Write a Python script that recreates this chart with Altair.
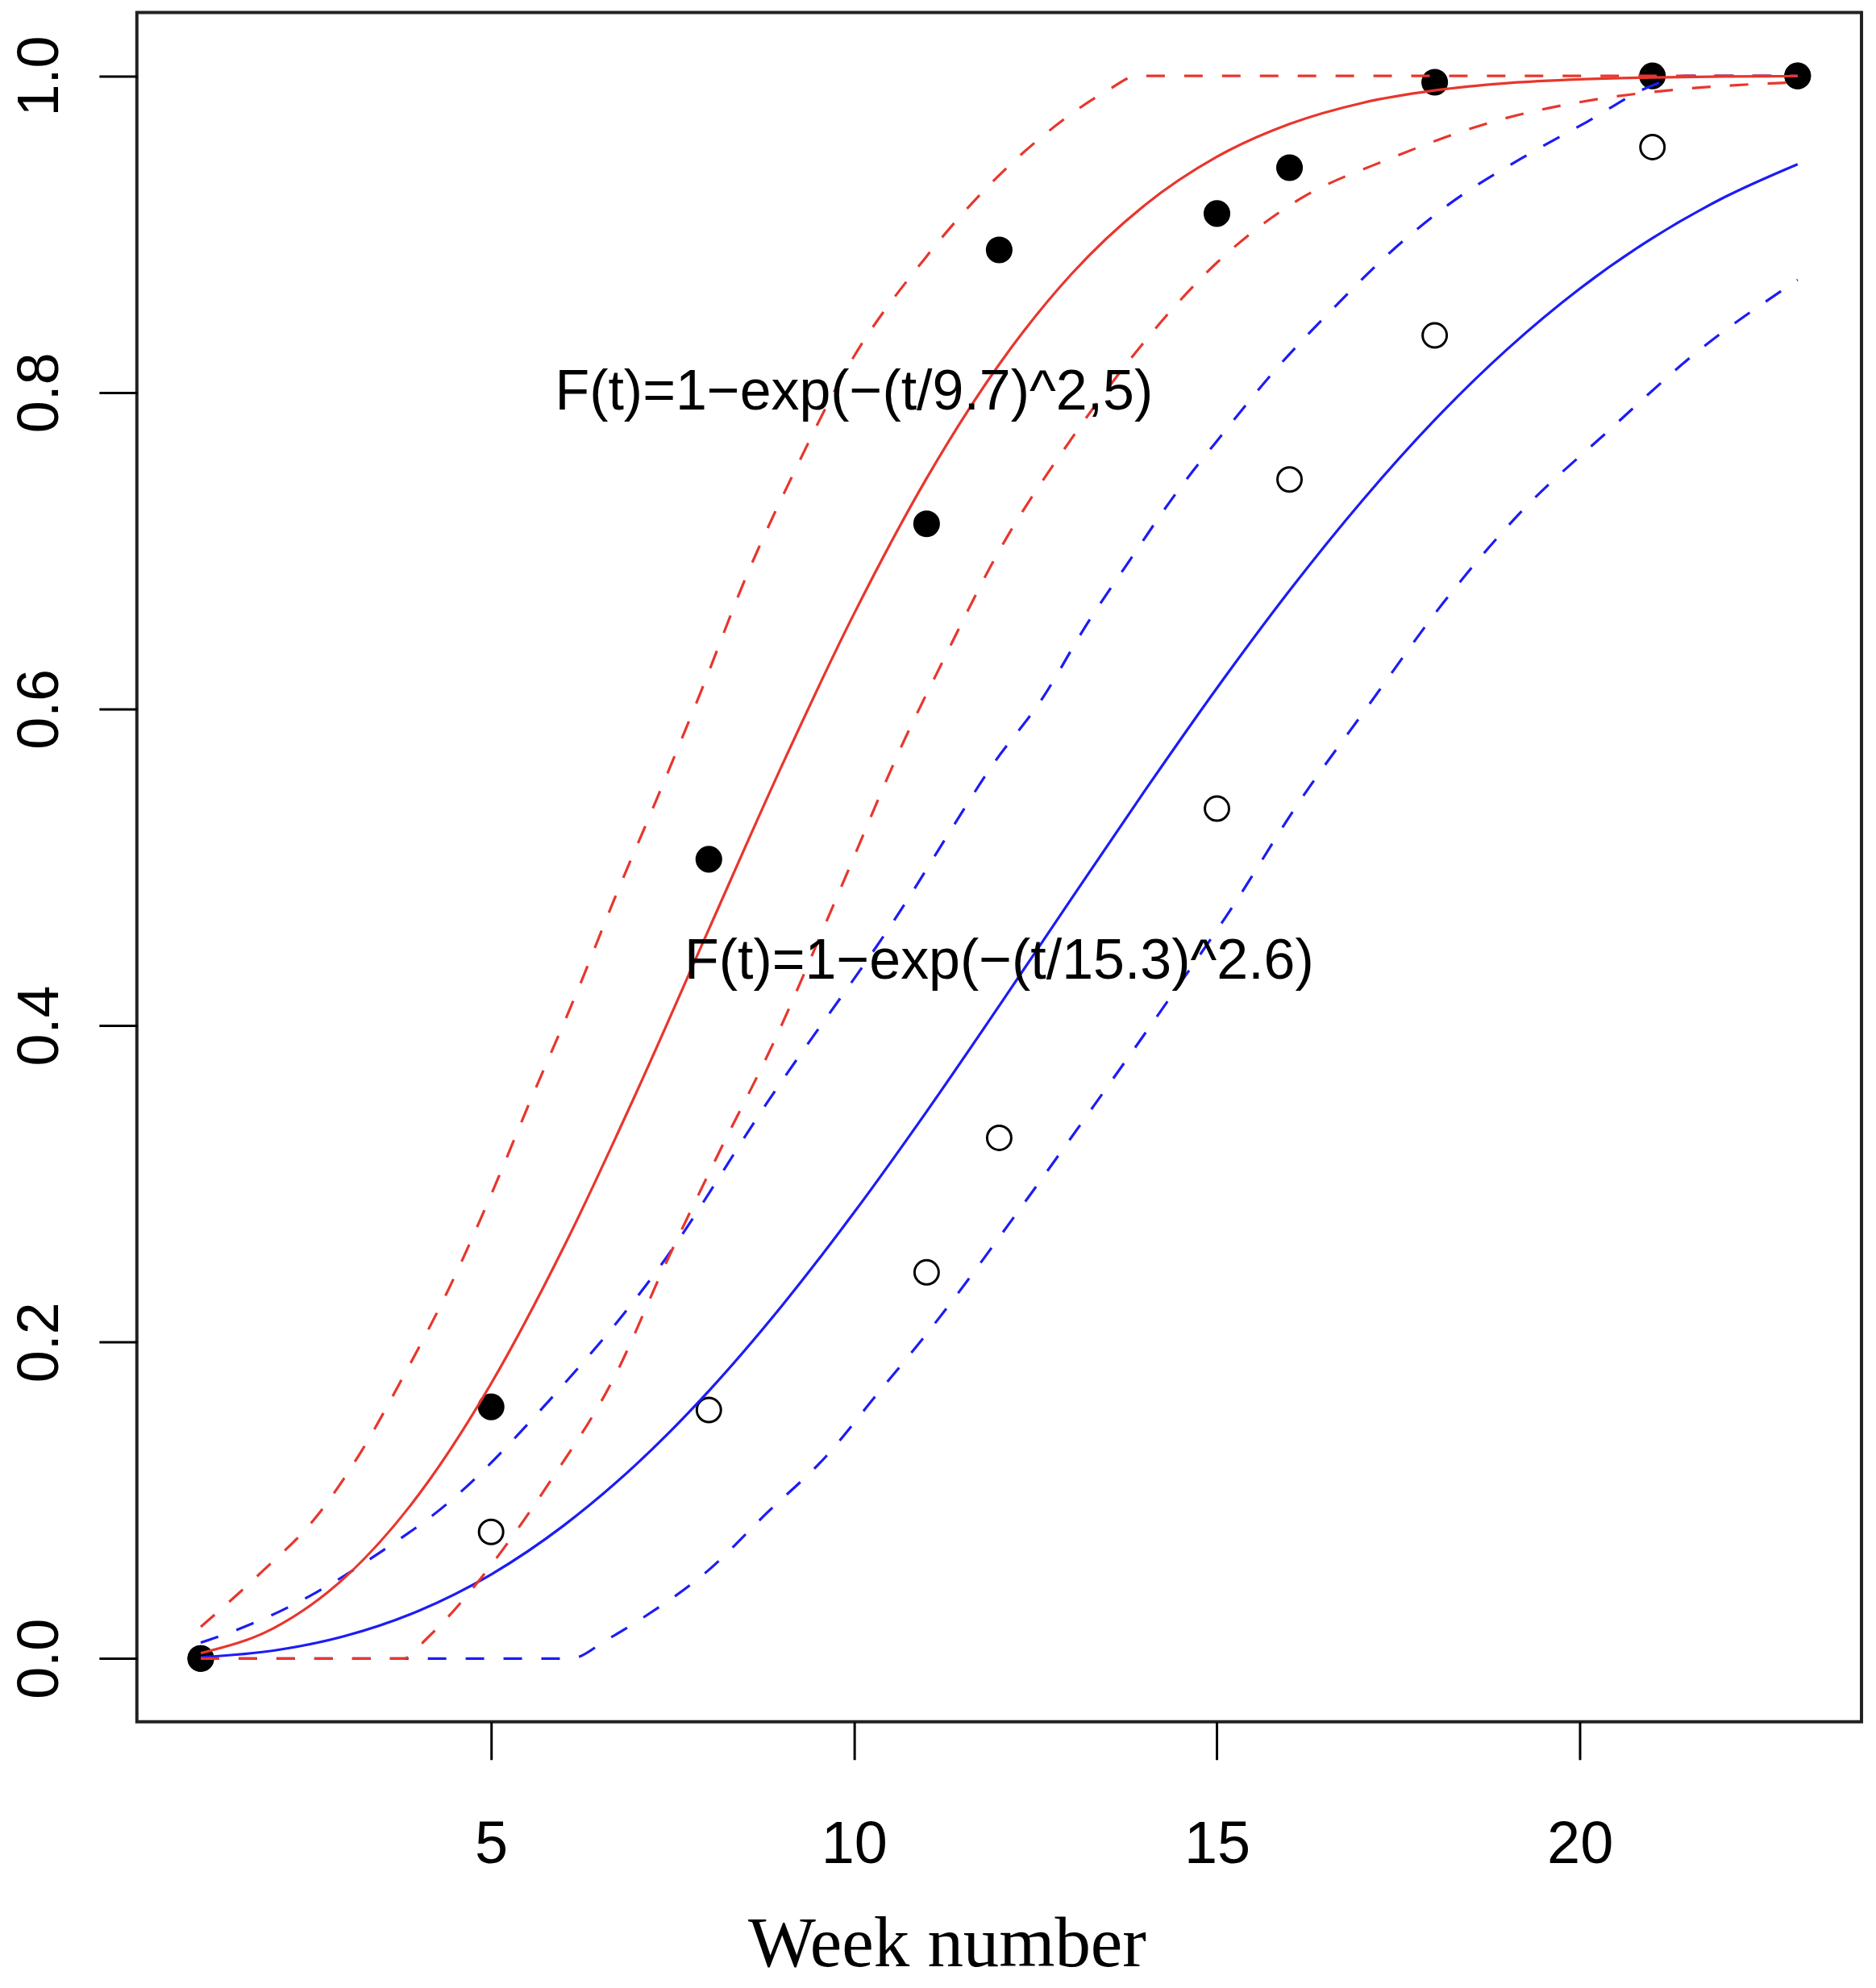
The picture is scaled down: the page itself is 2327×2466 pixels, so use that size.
import altair as alt
import pandas as pd

# ---- data ----
weeks = [1, 5, 8, 11, 12, 15, 16, 18, 21, 23]
filled_y = [0.0, 0.159, 0.505, 0.717, 0.890, 0.913, 0.942, 0.996, 1.0, 1.0]
open_y = [0.0, 0.080, 0.157, 0.244, 0.329, 0.537, 0.745, 0.836, 0.955, 1.0]

fit_t = list(range(1, 24))
red_fit = [0.0034, 0.0191, 0.0518, 0.1034, 0.1737, 0.2599, 0.3575, 0.4608, 0.5636, 0.6601,
           0.7457, 0.8177, 0.8750, 0.9181, 0.9489, 0.9696, 0.9829, 0.9908, 0.9954, 0.9978,
           0.9990, 0.9996, 0.9998]
blue_fit = [0.0008, 0.0050, 0.0144, 0.0301, 0.0531, 0.0840, 0.1227, 0.1691, 0.2225, 0.2818,
            0.3456, 0.4124, 0.4804, 0.5479, 0.6132, 0.6748, 0.7315, 0.7826, 0.8273, 0.8656,
            0.8975, 0.9235, 0.9442]

red_up_t = [1, 1.8, 2.6, 3.2, 3.8, 4.4, 5, 5.5, 6.2, 6.7, 7.3, 7.9, 8.5, 9.2, 9.9, 11.0, 11.8,
            12.6, 13.5, 13.9, 23]
red_up_v = [0.020, 0.053, 0.090, 0.130, 0.179, 0.232, 0.293, 0.348, 0.423, 0.480, 0.545, 0.612,
            0.682, 0.752, 0.815, 0.886, 0.928, 0.962, 0.991, 1.0, 1.0]

red_lo_t = [1, 3.8, 4.1, 4.5, 5.0, 5.8, 6.7, 7.4, 8.1, 8.9, 9.8, 10.7, 11.2, 12.0, 13.0, 14.0,
            15.0, 16.1, 17.4, 18.8, 20.2, 21.5, 23]
red_lo_v = [0, 0, 0.012, 0.031, 0.059, 0.111, 0.178, 0.249, 0.316, 0.390, 0.485, 0.581, 0.628,
            0.700, 0.771, 0.832, 0.882, 0.921, 0.948, 0.971, 0.985, 0.992, 0.996]

blue_up_t = [1, 1.6, 2.1, 2.6, 3.5, 4.4, 5.8, 7.3, 8.8, 10.8, 11.3, 11.9, 12.6, 13.2, 13.8, 14.4,
             15.1, 15.8, 16.6, 17.4, 18.2, 19.2, 20.1, 21.0, 21.45, 23]
blue_up_v = [0.010, 0.020, 0.030, 0.042, 0.068, 0.098, 0.163, 0.246, 0.351, 0.484, 0.521, 0.564,
             0.607, 0.653, 0.694, 0.734, 0.775, 0.814, 0.853, 0.889, 0.919, 0.948, 0.971, 0.994,
             1.0, 1.0]

blue_lo_t = [1, 6.1, 6.6, 7.1, 8.0, 8.8, 9.6, 10.3, 11.05, 12.3, 13.3, 14.3, 15.2, 16.1, 17.1,
             18.1, 19.2, 20.4, 21.6, 23]
blue_lo_v = [0, 0, 0.012, 0.026, 0.056, 0.092, 0.127, 0.166, 0.208, 0.285, 0.349, 0.414, 0.474,
             0.539, 0.603, 0.666, 0.725, 0.776, 0.825, 0.871]

labels_text = ["F(t)=1\u2212exp(\u2212(t/9.7)^2,5)", "F(t)=1\u2212exp(\u2212(t/15.3)^2.6)"]
labels_t = [10, 12]
labels_v = [0.80, 0.44]

x_ticks = [5, 10, 15, 20]
y_ticks = [0.0, 0.2, 0.4, 0.6, 0.8, 1.0]

RED = "#e8362d"
BLUE = "#1c1cf5"

xs = alt.Scale(domain=[0.12, 23.88], nice=False, zero=False)
ys = alt.Scale(domain=[-0.04, 1.04], nice=False, zero=False)

xaxis = alt.Axis(values=x_ticks, format="d", title="Week number", grid=False, domain=False,
                 tickSize=47, tickWidth=3, tickColor="black",
                 labelFont="Liberation Sans", labelFontSize=74, labelColor="black",
                 labelBaseline="alphabetic", labelPadding=128,
                 titleFont="Liberation Serif", titleFontSize=89, titleFontWeight="normal",
                 titleColor="black", titleX=1006, titleY=303, titleBaseline="alphabetic",
                 titleAlign="center", titleAngle=0)
yaxis = alt.Axis(values=y_ticks, format=".1f", title=None, grid=False, domain=False,
                 tickSize=47, tickWidth=3, tickColor="black",
                 labelFont="Liberation Sans", labelFontSize=72, labelColor="black",
                 labelAngle=-90, labelAlign="center", labelBaseline="alphabetic",
                 labelPadding=51)

pts = pd.DataFrame({"t": weeks, "filled": filled_y, "open": open_y})

open_layer = alt.Chart(pts).mark_point(shape="circle", filled=False, color="black",
                                       strokeWidth=3, size=900, opacity=1).encode(
    x=alt.X("t:Q", scale=xs, axis=xaxis),
    y=alt.Y("open:Q", scale=ys, axis=yaxis))

filled_layer = alt.Chart(pts).mark_point(shape="circle", filled=True, color="black",
                                         size=1100, opacity=1).encode(
    x=alt.X("t:Q", scale=xs),
    y=alt.Y("filled:Q", scale=ys))


def curve(ts, vs, color, dashed):
    df = pd.DataFrame({"t": ts, "v": vs})
    kw = dict(color=color, strokeWidth=3.2, interpolate="monotone")
    if dashed:
        kw["strokeDash"] = [23, 24]
    return alt.Chart(df).mark_line(**kw).encode(
        x=alt.X("t:Q", scale=xs), y=alt.Y("v:Q", scale=ys))


lines = [
    curve(blue_up_t, blue_up_v, BLUE, True),
    curve(blue_lo_t, blue_lo_v, BLUE, True),
    curve(fit_t, blue_fit, BLUE, False),
    curve(red_up_t, red_up_v, RED, True),
    curve(red_lo_t, red_lo_v, RED, True),
    curve(fit_t, red_fit, RED, False),
]

txt = pd.DataFrame({"t": labels_t, "v": labels_v, "label": labels_text})
text_layer = alt.Chart(txt).mark_text(font="Liberation Sans", fontSize=70, color="black",
                                      align="center", baseline="middle").encode(
    x=alt.X("t:Q", scale=xs), y=alt.Y("v:Q", scale=ys), text="label:N")

chart = alt.layer(open_layer, filled_layer, *lines, text_layer).properties(
    width=2142, height=2123,
    autosize=alt.AutoSizeParams(type="none"),
    padding={"left": 162, "top": 6, "right": 10, "bottom": 326},
    background="white",
).configure_view(stroke="#222222", strokeWidth=4)

chart.save("out.html", embed_options={"renderer": "svg", "actions": False})
